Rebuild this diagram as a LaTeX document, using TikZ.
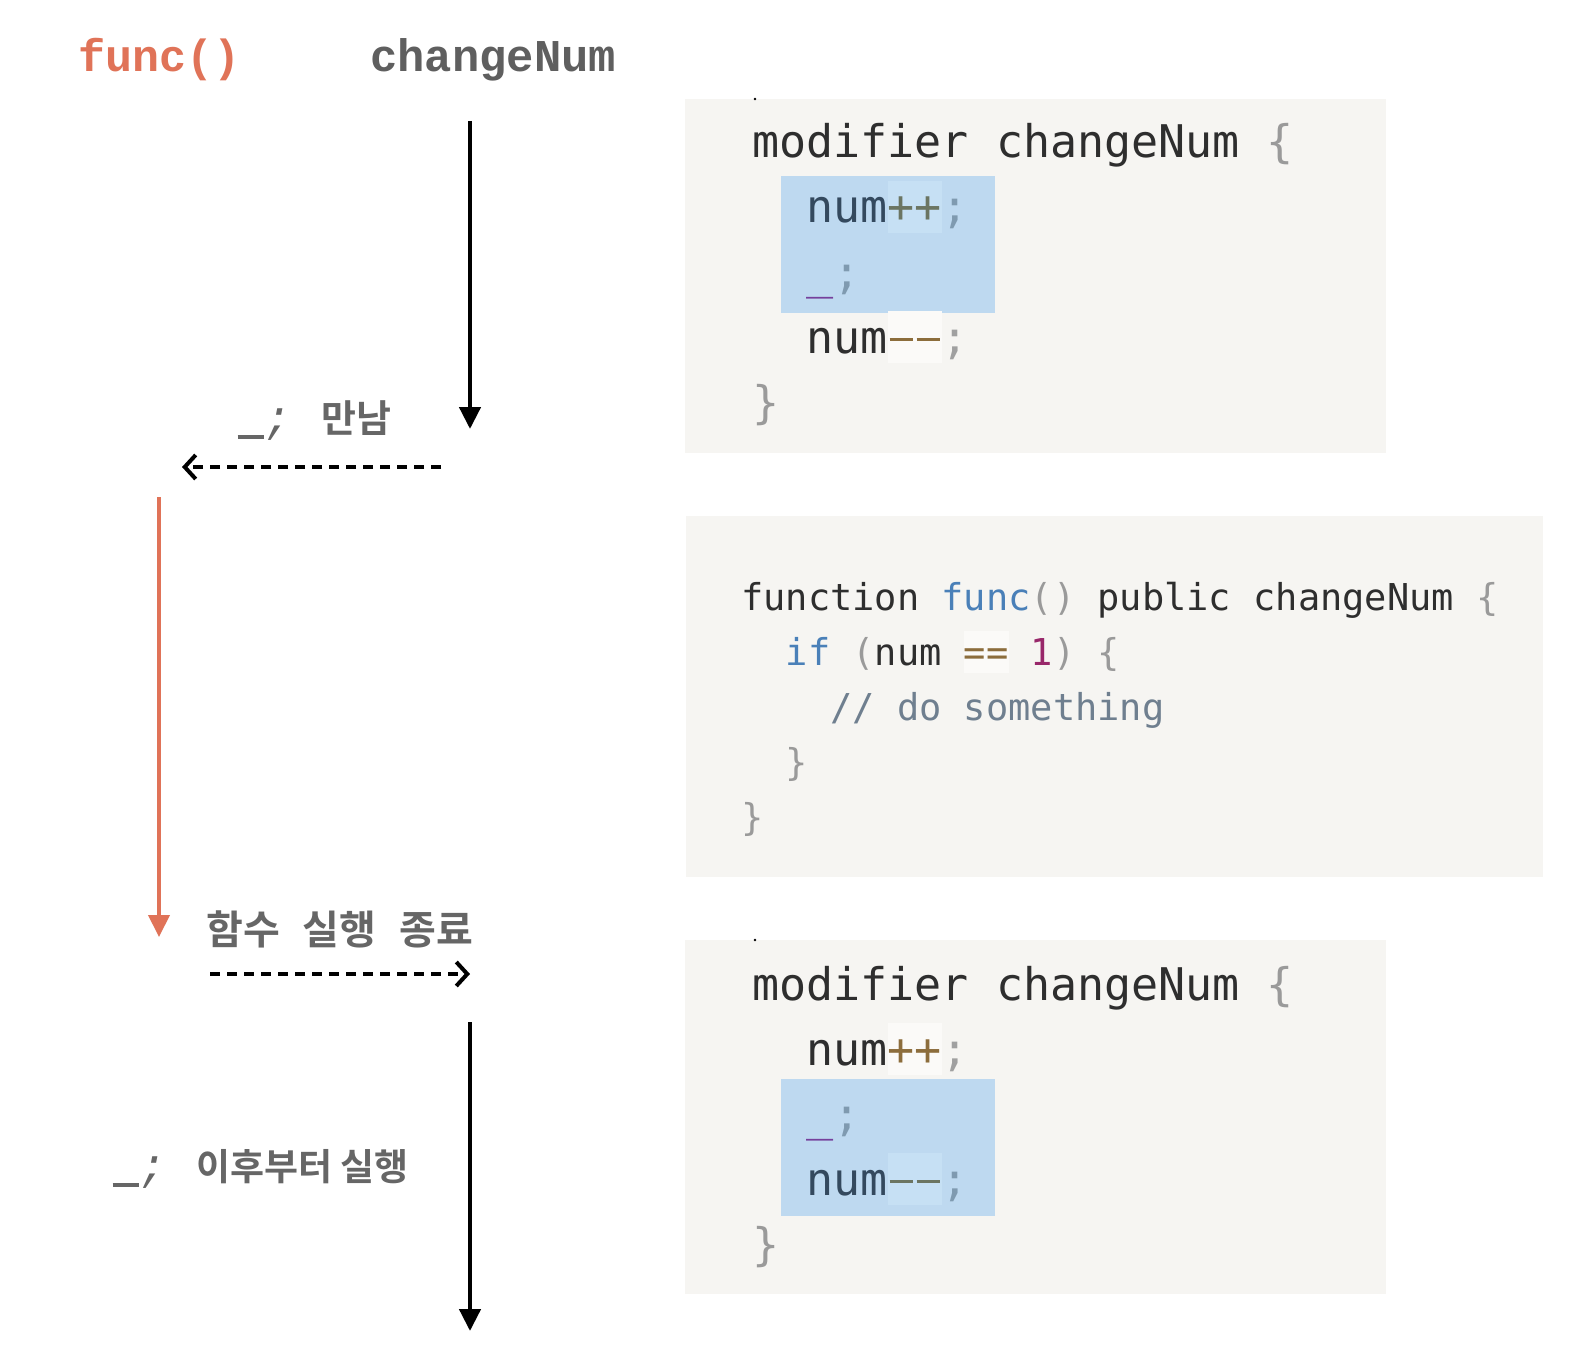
\documentclass[tikz,border=0pt]{standalone}
\usepackage{fontspec}
\usepackage{xcolor}
\usetikzlibrary{arrows.meta}
\setmainfont{DejaVu Sans}
\newfontfamily\codefont{DejaVu Sans Mono}
\newfontfamily\hdrfont{Liberation Mono}
\newfontfamily\krfont{Noto Sans CJK KR}[BoldFont={Noto Sans CJK KR Bold}]
\definecolor{salmon}{HTML}{E07358}
\definecolor{hdrgray}{HTML}{5F5F5F}
\definecolor{lblgray}{HTML}{666666}
\definecolor{boxbg}{HTML}{F6F5F2}
\definecolor{selbg}{HTML}{BED9F0}
\definecolor{selop}{HTML}{C6E0F4}
\definecolor{opbg}{HTML}{FBFAF8}
\definecolor{ctext}{HTML}{2E2E2E}
\definecolor{cbrace}{HTML}{9A9A9A}
\definecolor{csemi}{HTML}{A0A0A0}
\definecolor{cop}{HTML}{8C6D3C}
\definecolor{cpurple}{HTML}{76409C}
\definecolor{cblue}{HTML}{4A80B8}
\definecolor{cnum}{HTML}{98276A}
\definecolor{ccomment}{HTML}{6F7F8F}
\definecolor{seltext}{HTML}{34495E}
\definecolor{selopc}{HTML}{6B7562}
\definecolor{selsemi}{HTML}{7F9AB0}
\newcommand\opbox[3]{{\setlength{\fboxsep}{0pt}\colorbox{#1}{\textcolor{#2}{\rule[-0.22em]{0pt}{1.15em}#3}}}}
\newcommand\dashop{\makebox[0.602em][c]{\rule[0.27em]{0.52em}{0.07em}}}
\newcommand\lblus{\makebox[0.6em][c]{\rule[-0.16em]{0.58em}{0.09em}}}
\tikzset{
  codeA/.style={anchor=base west, inner sep=0pt, font=\codefont\fontsize{45}{54}\selectfont, text=ctext},
  codeB/.style={anchor=base west, inner sep=0pt, font=\codefont\fontsize{37}{44}\selectfont, text=ctext},
  lbl/.style={anchor=base west, inner sep=0pt, text=lblgray},
  solidarrow/.style={line width=4.5pt, -{Triangle[length=22pt,width=21pt]}},
  dasharrow/.style={line width=3.5pt, dash pattern=on 10pt off 7pt, -{Straight Barb[length=11pt,width=24pt,line width=4pt]}},
  codebox/.style={fill=boxbg, draw=none},
  selbox/.style={fill=selbg, draw=none}
}
\begin{document}
\begin{tikzpicture}[x=1pt,y=-1pt]
\useasboundingbox (0,0) rectangle (1584,1372);
\fill[white] (0,0) rectangle (1584,1372);

% headers
\node[anchor=base west, inner sep=0pt, font=\hdrfont\bfseries\fontsize{45}{54}\selectfont, text=salmon] (hfunc) at (78,72) {func()};
\node[anchor=base west, inner sep=0pt, font=\hdrfont\bfseries\fontsize{45.5}{54}\selectfont, text=hdrgray] (hchg) at (370,72) {changeNum};

% boxes
\fill[codebox] (685,99) rectangle (1386,453);
\fill[selbox] (781,176) rectangle (995,313);
\fill[codebox] (686,516) rectangle (1543,877);
\fill[codebox] (685,940) rectangle (1386,1294);
\fill[selbox] (781,1079) rectangle (995,1216);
\fill[black] (755,99) circle (1.3);
\fill[black] (755,940) circle (1.3);

% box 1
\node[codeA] (a1) at (752,158) {modifier changeNum \textcolor{cbrace}{\{}};
\node[codeA] (a2) at (752,223) {\ \ \textcolor{seltext}{num}\opbox{selop}{selopc}{++}\textcolor{selsemi}{;}};
\node[codeA] (a3) at (752,288) {\ \ \textcolor{cpurple}{\_}\textcolor{selsemi}{;}};
\node[codeA] (a4) at (752,353) {\ \ num\opbox{opbg}{cop}{\dashop\dashop}\textcolor{csemi}{;}};
\node[codeA] (a5) at (752,418) {\textcolor{cbrace}{\}}};

% box 2
\node[codeB] (b1) at (741,610) {function \textcolor{cblue}{func}\textcolor{cbrace}{()} public changeNum \textcolor{cbrace}{\{}};
\node[codeB] (b2) at (741,665) {\ \ \textcolor{cblue}{if} \textcolor{cbrace}{(}num \opbox{opbg}{cop}{==} \textcolor{cnum}{1}\textcolor{cbrace}{)} \textcolor{cbrace}{\{}};
\node[codeB] (b3) at (741,720) {\ \ \ \ \textcolor{ccomment}{// do something}};
\node[codeB] (b4) at (741,775) {\ \ \textcolor{cbrace}{\}}};
\node[codeB] (b5) at (741,830) {\textcolor{cbrace}{\}}};

% box 3
\node[codeA] (c1) at (752,1000) {modifier changeNum \textcolor{cbrace}{\{}};
\node[codeA] (c2) at (752,1065) {\ \ num\opbox{opbg}{cop}{++}\textcolor{csemi}{;}};
\node[codeA] (c3) at (752,1130) {\ \ \textcolor{cpurple}{\_}\textcolor{selsemi}{;}};
\node[codeA] (c4) at (752,1195) {\ \ \textcolor{seltext}{num}\opbox{selop}{selopc}{\dashop\dashop}\textcolor{selsemi}{;}};
\node[codeA] (c5) at (752,1260) {\textcolor{cbrace}{\}}};

% labels
\node[lbl] (l1) at (237,432) {{\hdrfont\itshape\fontsize{45}{54}\selectfont \lblus;}\hspace{30pt}{\krfont\bfseries\fontsize{38}{46}\selectfont 만남}};
\node[lbl] (l2) at (206,944) {\krfont\bfseries\fontsize{40}{48}\selectfont 함수\hspace{23pt}실행\hspace{23pt}종료};
\node[lbl] (l3) at (112,1180) {{\hdrfont\itshape\fontsize{45}{54}\selectfont \lblus;}\hspace{30pt}{\krfont\bfseries\fontsize{37}{45}\selectfont 이후부터 실행}};

% arrows
\coordinate (s1) at (470,121);
\coordinate (e1) at (470,429);
\coordinate (d1s) at (441,467);
\coordinate (d1e) at (182,467);
\coordinate (rs) at (159,497);
\coordinate (re) at (159,937);
\coordinate (d2s) at (210,974);
\coordinate (d2e) at (470,974);
\coordinate (s2) at (470,1022);
\coordinate (e2) at (470,1331);
\draw[solidarrow] (s1) -- (e1);
\draw[dasharrow] (d1s) -- (d1e);
\draw[solidarrow, line width=4pt, color=salmon] (rs) -- (re);
\draw[dasharrow] (d2s) -- (d2e);
\draw[solidarrow] (s2) -- (e2);
\end{tikzpicture}
\end{document}
